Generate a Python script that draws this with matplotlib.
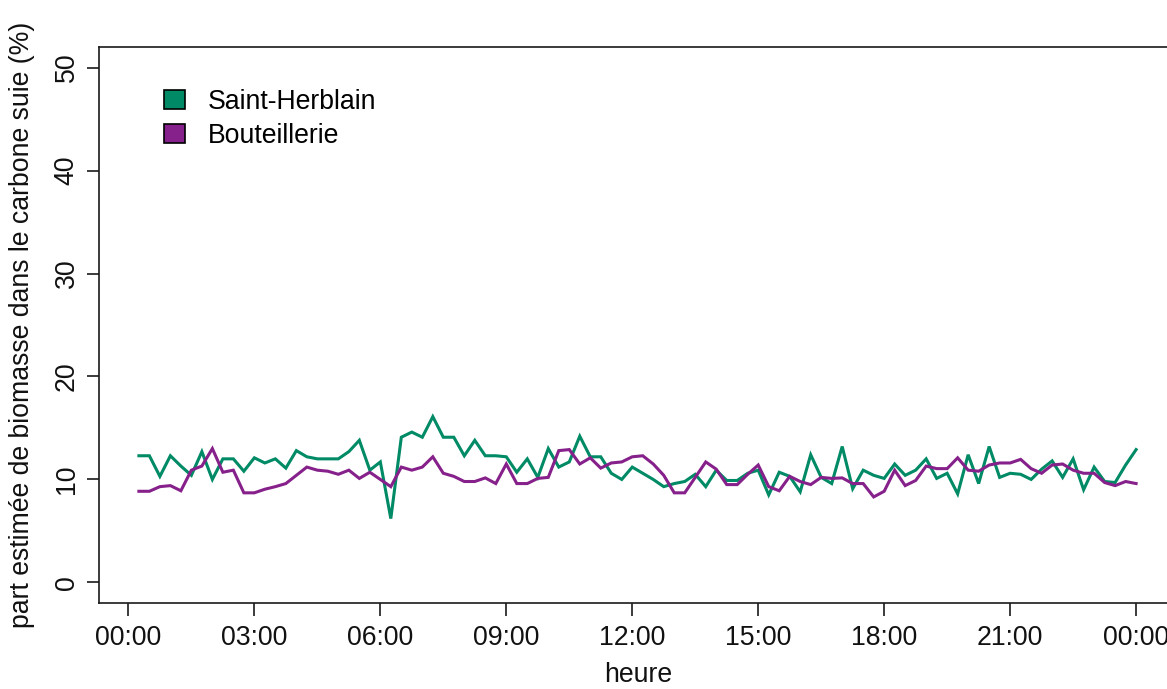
import numpy as np
import matplotlib
matplotlib.use("Agg")
import matplotlib.pyplot as plt
from matplotlib.patches import Patch

plt.rcParams["font.family"] = ["Liberation Sans", "DejaVu Sans"]

# quarter-hour time stamps (hours), 00:15 -> 24:00
hours = np.arange(1, 97) * 0.25

saint_herblain = [
    12.3, 12.3, 10.3, 12.3, 11.3, 10.4, 12.7, 10.0, 12.0, 12.0, 10.8, 12.1,
    11.6, 12.0, 11.1, 12.8, 12.2, 12.0, 12.0, 12.0, 12.7, 13.8, 10.9, 11.7,
    6.2, 14.1, 14.6, 14.1, 16.1, 14.1, 14.1, 12.3, 13.8, 12.3, 12.3, 12.2,
    10.7, 12.0, 10.2, 13.0, 11.2, 11.7, 14.2, 12.2, 12.2, 10.6, 10.0, 11.2,
    10.6, 10.0, 9.3, 9.6, 9.8, 10.5, 9.3, 10.9, 9.9, 9.9, 10.6, 10.9,
    8.5, 10.7, 10.3, 8.8, 12.4, 10.2, 9.6, 13.2, 9.1, 10.9, 10.4, 10.1,
    11.5, 10.4, 10.9, 12.0, 10.1, 10.6, 8.6, 12.4, 9.6, 13.2, 10.2, 10.6,
    10.5, 10.0, 11.0, 11.8, 10.2, 12.0, 9.0, 11.2, 9.8, 9.7, 11.4, 12.9,
]

bouteillerie = [
    8.85, 8.85, 9.3, 9.4, 8.9, 10.9, 11.3, 13.0, 10.7, 10.9, 8.7, 8.7,
    9.05, 9.3, 9.6, 10.4, 11.2, 10.9, 10.8, 10.5, 10.9, 10.1, 10.7, 10.0,
    9.3, 11.2, 10.9, 11.2, 12.2, 10.6, 10.3, 9.8, 9.8, 10.15, 9.6, 11.5,
    9.6, 9.6, 10.1, 10.2, 12.8, 12.9, 11.5, 12.1, 11.1, 11.6, 11.7, 12.2,
    12.3, 11.5, 10.4, 8.7, 8.7, 10.2, 11.7, 11.0, 9.5, 9.5, 10.5, 11.4,
    9.3, 8.9, 10.3, 9.8, 9.5, 10.2, 10.1, 10.15, 9.6, 9.6, 8.3, 8.85,
    10.9, 9.4, 9.9, 11.3, 11.05, 11.05, 12.1, 10.9, 10.8, 11.4, 11.6, 11.6,
    11.95, 11.05, 10.6, 11.4, 11.5, 10.9, 10.6, 10.6, 9.7, 9.4, 9.8, 9.6,
]

series_names = ["Saint-Herblain", "Bouteillerie"]
series_colors = ["#008A65", "#86208A"]

x_ticks = [0, 3, 6, 9, 12, 15, 18, 21, 24]
x_tick_labels = ["00:00", "03:00", "06:00", "09:00", "12:00",
                 "15:00", "18:00", "21:00", "00:00"]
y_ticks = [0, 10, 20, 30, 40, 50]

FS = 19.2

fig = plt.figure(figsize=(11.67, 6.89), dpi=100)
W, H = 1167, 689
left, right, top, bottom = 99, 1176, 47, 603
ax = fig.add_axes([left / W, 1 - bottom / H, (right - left) / W, (bottom - top) / H])

for vals, col in zip([saint_herblain, bouteillerie], series_colors):
    ax.plot(hours, vals, color=col, lw=2.2, solid_joinstyle="miter")

ax.set_xlim(-0.7, 24.95)
ax.set_ylim(-2, 52)

ax.set_xticks(x_ticks)
ax.set_xticklabels(x_tick_labels)
ax.set_yticks(y_ticks)
ax.set_yticklabels([str(v) for v in y_ticks], rotation=90, va="center")

ax.tick_params(axis="both", direction="out", length=9, width=1.2,
               labelsize=FS, color="#1a1a1a", labelcolor="#111111")
ax.tick_params(axis="x", pad=7)
ax.tick_params(axis="y", pad=5)

for sp in ax.spines.values():
    sp.set_linewidth(1.2)
    sp.set_color("#1a1a1a")

ax.set_xlabel("heure", fontsize=FS, va="center", color="#111111")
ax.xaxis.set_label_coords((638 - left) / (right - left), (bottom - 675) / (bottom - top))
ax.set_ylabel("part estimée de biomasse dans le carbone suie (%)", fontsize=FS,
              va="center", color="#111111")
ax.yaxis.set_label_coords((22 - left) / (right - left), 0.5)

handles = [Patch(facecolor=c, edgecolor="black", linewidth=1.2) for c in series_colors]
leg = ax.legend(handles, series_names, loc="upper left",
                bbox_to_anchor=((164 - left) / (right - left), (bottom - 89) / (bottom - top)),
                frameon=False, fontsize=FS, handlelength=0.8, handleheight=0.75,
                handletextpad=0.85, labelspacing=0.3, borderpad=0, borderaxespad=0)

fig.savefig("out.png", dpi=100)
